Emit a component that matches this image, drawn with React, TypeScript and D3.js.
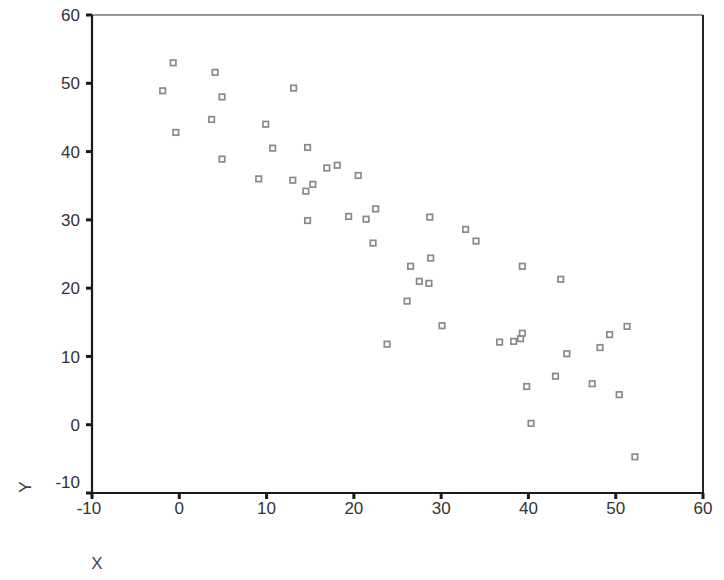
import React from 'react';
import * as d3 from 'd3';

// values
const xValues = [
  -1.9, -0.7, -0.4, 4.1, 4.9, 3.7, 4.9, 9.9, 9.1, 10.7, 13.1, 13.0, 14.7, 14.5, 15.3, 14.7, 16.9,
  18.1, 20.5, 19.4, 21.4, 22.5, 22.2, 28.7, 32.8, 34.0, 26.5, 28.8, 27.5, 28.6, 26.1, 30.1, 23.8,
  39.3, 43.7, 36.7, 38.3, 39.1, 39.3, 39.8, 40.3, 43.1, 44.4, 47.3, 48.2, 49.3, 51.3, 50.4, 52.2,
];
const yValues = [
  48.9, 53.0, 42.8, 51.6, 48.0, 44.7, 38.9, 44.0, 36.0, 40.5, 49.3, 35.8, 40.6, 34.2, 35.2, 29.9, 37.6,
  38.0, 36.5, 30.5, 30.1, 31.6, 26.6, 30.4, 28.6, 26.9, 23.2, 24.4, 21.0, 20.7, 18.1, 14.5, 11.8,
  23.2, 21.3, 12.1, 12.2, 12.6, 13.4, 5.6, 0.2, 7.1, 10.4, 6.0, 11.3, 13.2, 14.4, 4.4, -4.7,
];
const xTicks = [-10, 0, 10, 20, 30, 40, 50, 60];
const yTicks = [-10, 0, 10, 20, 30, 40, 50, 60];

const W = 724;
const H = 580;
const left = 92;
const right = 703;
const top = 15;
const bottom = 493;

const font = 'Arial, "Liberation Sans", sans-serif';

export default function App() {
  const x = d3.scaleLinear().domain([-10, 60]).range([left, right]);
  const y = d3.scaleLinear().domain([-10, 60]).range([bottom, top]);
  const points = xValues.map((v, i) => ({ x: v, y: yValues[i] }));
  const s = 5.5;

  return (
    <svg
      width={W}
      height={H}
      style={{ position: 'absolute', left: 0, top: 0, background: '#fff' }}
    >
      {/* frame */}
      <line x1={left} x2={right} y1={top} y2={top} stroke="#333" strokeWidth={1} />
      <line x1={right} x2={right} y1={top} y2={bottom} stroke="#222" strokeWidth={2} />
      <line x1={left} x2={left} y1={top} y2={bottom + 1} stroke="#1a1a1a" strokeWidth={2.2} />
      <line x1={left - 1} x2={right + 1} y1={bottom} y2={bottom} stroke="#1a1a1a" strokeWidth={2.2} />

      {/* y axis ticks */}
      {yTicks.map((t) => (
        <g key={'y' + t}>
          <line x1={left - 6} x2={left} y1={y(t)} y2={y(t)} stroke="#1a1a1a" strokeWidth={3} />
          <text
            x={80}
            y={y(t) + (t === -10 ? -11 : 0)}
            dy="0.36em"
            textAnchor="end"
            fontFamily={font}
            fontSize={17}
            fill="#333"
          >
            {t}
          </text>
        </g>
      ))}

      {/* x axis ticks */}
      {xTicks.map((t) => (
        <g key={'x' + t}>
          <line x1={x(t)} x2={x(t)} y1={bottom} y2={bottom + 6} stroke="#1a1a1a" strokeWidth={3} />
          <text
            x={x(t) - (t < 0 ? 3 : 0)}
            y={514}
            textAnchor="middle"
            fontFamily={font}
            fontSize={17}
            fill="#333"
          >
            {t}
          </text>
        </g>
      ))}

      {/* markers */}
      {points.map((p, i) => (
        <rect
          key={i}
          x={x(p.x) - s / 2}
          y={y(p.y) - s / 2}
          width={s}
          height={s}
          fill="#fff"
          stroke="#8a8a8a"
          strokeWidth={1.7}
        />
      ))}

      {/* axis titles */}
      <text
        transform={`translate(31, 487) rotate(-90)`}
        textAnchor="middle"
        fontFamily={font}
        fontSize={17}
        fill="#444"
      >
        Y
      </text>
      <text x={97} y={569} textAnchor="middle" fontFamily={font} fontSize={17} fill="#444">
        X
      </text>
    </svg>
  );
}
